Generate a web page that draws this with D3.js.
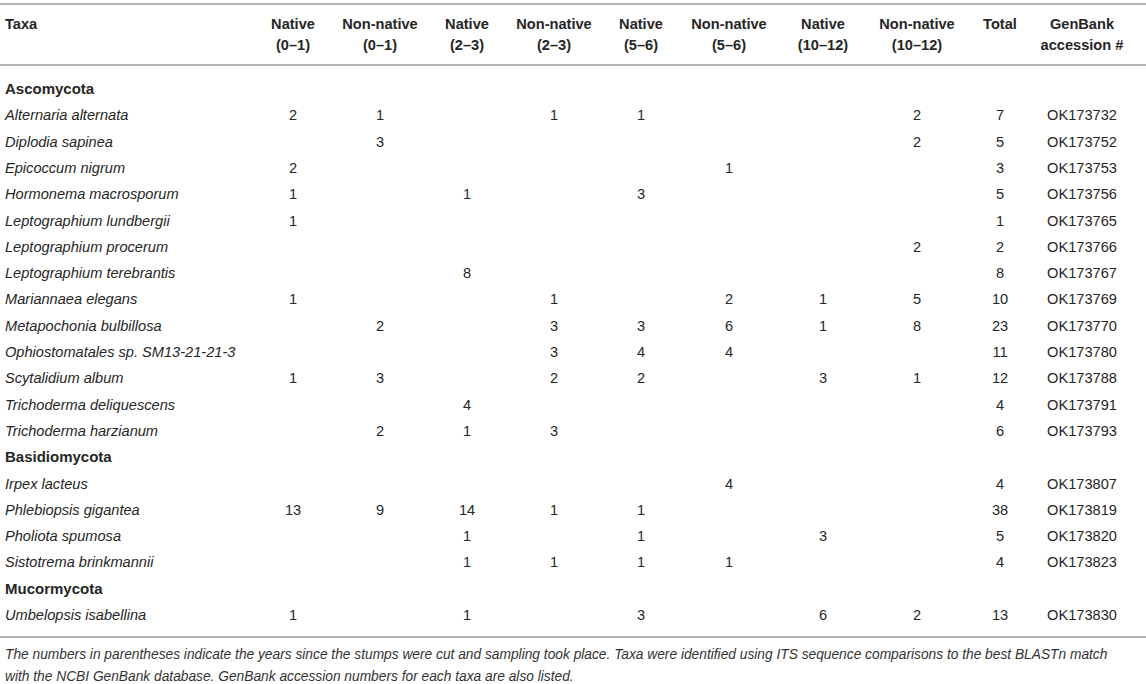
<!DOCTYPE html>
<html>
<head>
<meta charset="utf-8">
<script src="https://cdn.jsdelivr.net/npm/d3@7"></script>
<style>
  body { margin: 0; background: #fff; }
  svg text { font-family: "Liberation Sans", Arial, sans-serif; fill: #262626; }
</style>
</head>
<body>
<div id="chart"></div>
<script>
// column headers (two lines each)
const headTop = ["Native", "Non-native", "Native", "Non-native", "Native", "Non-native", "Native", "Non-native", "Total", "GenBank"];
const headBottom = ["(0–1)", "(0–1)", "(2–3)", "(2–3)", "(5–6)", "(5–6)", "(10–12)", "(10–12)", "", "accession #"];

// rows; phylum headings are flagged in isPhylum
const taxa = [
  "Ascomycota",
  "Alternaria alternata", "Diplodia sapinea", "Epicoccum nigrum", "Hormonema macrosporum",
  "Leptographium lundbergii", "Leptographium procerum", "Leptographium terebrantis",
  "Mariannaea elegans", "Metapochonia bulbillosa", "Ophiostomatales sp. SM13-21-21-3",
  "Scytalidium album", "Trichoderma deliquescens", "Trichoderma harzianum",
  "Basidiomycota",
  "Irpex lacteus", "Phlebiopsis gigantea", "Pholiota spumosa", "Sistotrema brinkmannii",
  "Mucormycota",
  "Umbelopsis isabellina"
];
const isPhylum = [1, 0,0,0,0,0,0,0,0,0,0,0,0,0, 1, 0,0,0,0, 1, 0];

const native01    = [null, 2, null, 2, 1, 1, null, null, 1, null, null, 1, null, null, null, null, 13, null, null, null, 1];
const nonNative01 = [null, 1, 3, null, null, null, null, null, null, 2, null, 3, null, 2, null, null, 9, null, null, null, null];
const native23    = [null, null, null, null, 1, null, null, 8, null, null, null, null, 4, 1, null, null, 14, 1, 1, null, 1];
const nonNative23 = [null, 1, null, null, null, null, null, null, 1, 3, 3, 2, null, 3, null, null, 1, null, 1, null, null];
const native56    = [null, 1, null, null, 3, null, null, null, null, 3, 4, 2, null, null, null, null, 1, 1, 1, null, 3];
const nonNative56 = [null, null, null, 1, null, null, null, null, 2, 6, 4, null, null, null, null, 4, null, null, 1, null, null];
const native1012  = [null, null, null, null, null, null, null, null, 1, 1, null, 3, null, null, null, null, null, 3, null, null, 6];
const nonNative1012 = [null, 2, 2, null, null, null, 2, null, 5, 8, null, 1, null, null, null, null, null, null, null, null, 2];
const totals      = [null, 7, 5, 3, 5, 1, 2, 8, 10, 23, 11, 12, 4, 6, null, 4, 38, 5, 4, null, 13];
const accession   = ["", "OK173732", "OK173752", "OK173753", "OK173756", "OK173765", "OK173766", "OK173767",
  "OK173769", "OK173770", "OK173780", "OK173788", "OK173791", "OK173793", "",
  "OK173807", "OK173819", "OK173820", "OK173823", "", "OK173830"];

const footnote = [
  "The numbers in parentheses indicate the years since the stumps were cut and sampling took place. Taxa were identified using ITS sequence comparisons to the best BLASTn match",
  "with the NCBI GenBank database. GenBank accession numbers for each taxa are also listed."
];

const width = 1146, height = 684;
const fs = 14.6;
const columns = [native01, nonNative01, native23, nonNative23, native56, nonNative56, native1012, nonNative1012, totals, accession];

const svg = d3.select("#chart").append("svg")
  .attr("width", width).attr("height", height);

// column centres
const x = d3.scaleOrdinal()
  .domain(d3.range(columns.length))
  .range([293, 380, 467, 554, 641, 729, 823, 917, 1000, 1082]);

const y = d3.scalePoint()
  .domain(d3.range(taxa.length))
  .range([89, 615]);

// rules
const rule = (yy) => svg.append("line")
  .attr("x1", 0).attr("x2", width)
  .attr("y1", yy).attr("y2", yy)
  .attr("stroke", "#b4b4b4").attr("stroke-width", 2);
rule(4); rule(65); rule(637);

// header
svg.append("text").attr("x", 5).attr("y", 29)
  .style("font-size", fs + "px").style("font-weight", "bold").text("Taxa");

const head = svg.selectAll(".head").data(d3.range(columns.length)).join("g").attr("class", "head");
head.append("text").attr("x", (d) => x(d)).attr("y", 29)
  .attr("text-anchor", "middle").style("font-size", fs + "px").style("font-weight", "bold")
  .text((d) => headTop[d]);
head.append("text").attr("x", (d) => x(d)).attr("y", 50)
  .attr("text-anchor", "middle").style("font-size", fs + "px").style("font-weight", "bold")
  .text((d) => headBottom[d]);

// taxa names
svg.selectAll(".taxon").data(taxa).join("text")
  .attr("class", "taxon")
  .attr("x", 5)
  .attr("y", (d, i) => y(i) + 5)
  .style("font-size", (d, i) => (isPhylum[i] ? fs + 0.4 : fs) + "px")
  .style("font-weight", (d, i) => (isPhylum[i] ? "bold" : "normal"))
  .style("font-style", (d, i) => (isPhylum[i] ? "normal" : "italic"))
  .text((d) => d);

// cells
columns.forEach((col, c) => {
  svg.selectAll(".col" + c)
    .data(col.map((v, i) => ({ v, i })).filter((d) => d.v !== null && d.v !== ""))
    .join("text")
    .attr("class", "col" + c)
    .attr("x", x(c))
    .attr("y", (d) => y(d.i) + 5)
    .attr("text-anchor", "middle")
    .style("font-size", fs + "px")
    .text((d) => d.v);
});

// footnote
svg.selectAll(".foot").data(footnote).join("text")
  .attr("class", "foot")
  .attr("x", 5)
  .attr("y", (d, i) => 659 + i * 22)
  .style("font-size", "13.75px")
  .style("font-style", "italic")
  .style("fill", "#333")
  .text((d) => d);
</script>
</body>
</html>
